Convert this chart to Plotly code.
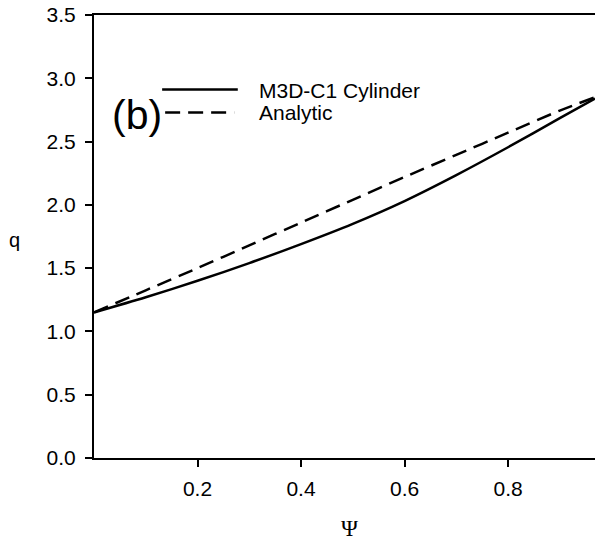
import plotly.graph_objects as go

# Data
psi = [0.0, 0.1, 0.2, 0.3, 0.4, 0.5, 0.6, 0.7, 0.8, 0.9, 0.968]
q_m3d = [1.15, 1.27, 1.40, 1.54, 1.69, 1.85, 2.03, 2.235, 2.455, 2.685, 2.84]
q_analytic = [1.15, 1.325, 1.50, 1.68, 1.86, 2.04, 2.22, 2.395, 2.57, 2.745, 2.85]
series_names = ["M3D-C1 Cylinder", "Analytic"]
x_ticks = [0.2, 0.4, 0.6, 0.8]
y_ticks = [0.0, 0.5, 1.0, 1.5, 2.0, 2.5, 3.0, 3.5]

FONT = "Liberation Sans, Arial, sans-serif"

fig = go.Figure()
fig.add_trace(go.Scatter(x=psi, y=q_analytic, mode="lines", name=series_names[1],
                         line=dict(color="black", width=2.5, dash="15px,8px",
                                   shape="spline", smoothing=0.8)))
fig.add_trace(go.Scatter(x=psi, y=q_m3d, mode="lines", name=series_names[0],
                         line=dict(color="black", width=2.5, shape="spline", smoothing=0.8)))

fig.update_layout(
    width=595, height=540,
    margin=dict(l=94, r=0, t=15, b=82),
    paper_bgcolor="white", plot_bgcolor="white",
    showlegend=False,
    font=dict(family=FONT, size=20, color="black"),
    xaxis=dict(range=[0, 0.968], tickvals=x_ticks, tickformat=".1f",
               tickfont=dict(size=21),
               showgrid=False, zeroline=False, showline=True, linecolor="black",
               linewidth=2, mirror=True, ticks="outside", ticklen=7, tickwidth=2,
               tickcolor="black", ticklabelstandoff=4),
    yaxis=dict(range=[0, 3.5], tickvals=y_ticks, tickformat=".1f",
               tickfont=dict(size=21),
               showgrid=False, zeroline=False, showline=True, linecolor="black",
               linewidth=2, ticks="outside", ticklen=7, tickwidth=2,
               tickcolor="black", ticklabelstandoff=5),
)

# Legend drawn inside the plot (long sample lines as in reference)
fig.add_shape(type="line", xref="paper", yref="paper", x0=0.136, x1=0.287, y0=0.832, y1=0.832,
              line=dict(color="black", width=2.5))
fig.add_shape(type="line", xref="paper", yref="paper", x0=0.142, x1=0.28, y0=0.780, y1=0.780,
              line=dict(color="black", width=2.5, dash="15px,8px"))
fig.add_annotation(xref="paper", yref="paper", x=0.325, y=0.830, text=series_names[0],
                   showarrow=False, xanchor="left", yanchor="middle", font=dict(size=21))
fig.add_annotation(xref="paper", yref="paper", x=0.325, y=0.780, text=series_names[1],
                   showarrow=False, xanchor="left", yanchor="middle", font=dict(size=21))
fig.add_annotation(xref="paper", yref="paper", x=0.086, y=0.774, text="(b)",
                   showarrow=False, xanchor="center", yanchor="middle", font=dict(size=41))

# Axis titles
fig.add_annotation(xref="paper", yref="paper", x=0.509, y=0, yshift=-70, text="Ψ",
                   showarrow=False, xanchor="center", yanchor="middle",
                   font=dict(family="Liberation Serif, Times New Roman, serif", size=23))
fig.add_annotation(xref="paper", yref="paper", x=0, xshift=-80, y=0.492, text="q",
                   showarrow=False, xanchor="center", yanchor="middle", font=dict(size=20))

fig.write_html("out.html")
